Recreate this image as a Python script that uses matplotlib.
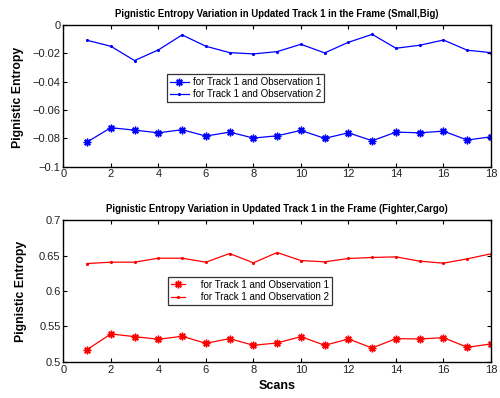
import matplotlib
matplotlib.use("Agg")
import matplotlib.pyplot as plt
import numpy as np

plt.rcParams['font.family'] = ['Liberation Sans', 'DejaVu Sans']

scans = list(range(1, 19))

small_big_obs1 = [-0.0826, -0.0725, -0.0742, -0.0761, -0.0739, -0.0784, -0.0756, -0.0798, -0.0782,
                  -0.0744, -0.0800, -0.0761, -0.0817, -0.0756, -0.0761, -0.0749, -0.0812, -0.0789]
small_big_obs2 = [-0.0108, -0.0150, -0.0251, -0.0176, -0.0070, -0.0150, -0.0195, -0.0204, -0.0188,
                  -0.0136, -0.0197, -0.0122, -0.0066, -0.0164, -0.0143, -0.0106, -0.0178, -0.0195]

fighter_cargo_obs1 = [0.5174, 0.5395, 0.5357, 0.5320, 0.5362, 0.5263, 0.5329, 0.5235, 0.5268,
                      0.5357, 0.5235, 0.5324, 0.5197, 0.5329, 0.5324, 0.5343, 0.5207, 0.5254]
fighter_cargo_obs2 = [0.6387, 0.6406, 0.6406, 0.6462, 0.6462, 0.6406, 0.6528, 0.6397, 0.6542,
                      0.6429, 0.6411, 0.6458, 0.6472, 0.6481, 0.6420, 0.6392, 0.6453, 0.6524]

top_title = "Pignistic Entropy Variation in Updated Track 1 in the Frame (Small,Big)"
bot_title = "Pignistic Entropy Variation in Updated Track 1 in the Frame (Fighter,Cargo)"
leg1 = "for Track 1 and Observation 1"
leg2 = "for Track 1 and Observation 2"

ASTER = (8, 2, 0)

fig = plt.figure(figsize=(5, 3.98), dpi=100)
ax1 = fig.add_axes([0.1266, 0.5812, 0.8554, 0.356])
ax2 = fig.add_axes([0.1266, 0.0905, 0.8554, 0.3567])

def style(ax):
    ax.tick_params(direction='in', labelsize=8, length=3, width=0.8, top=True, right=True,
                   pad=2, colors='black', labelcolor='#222222')
    for s in ax.spines.values():
        s.set_linewidth(1.0)
    ax.set_xlim(0, 18)
    ax.set_xticks(range(0, 19, 2))

# Top
ax1.plot(scans, small_big_obs1, color='blue', marker=ASTER, markersize=5.5, markeredgewidth=1.0,
         linewidth=0.9, label=leg1)
ax1.plot(scans, small_big_obs2, color='blue', marker='.', markersize=2.5, linewidth=0.9, label=leg2)
style(ax1)
ax1.set_ylim(-0.1, 0)
ax1.set_yticks([-0.1, -0.08, -0.06, -0.04, -0.02, 0])
ax1.set_yticklabels(['\u22120.1', '\u22120.08', '\u22120.06', '\u22120.04', '\u22120.02', '0'])
ax1.set_title(top_title, fontsize=6.9, fontweight='bold', pad=6)
ax1.set_ylabel("Pignistic Entropy", fontsize=8.8, fontweight='bold')
ax1.yaxis.set_label_coords(-0.092, 0.49)
l1 = ax1.legend(loc='upper left', bbox_to_anchor=(0.2418, 0.654), borderaxespad=0,
                fontsize=7, frameon=True, fancybox=False, edgecolor='black',
                handlelength=2.0, borderpad=0.3, labelspacing=0.25, handletextpad=0.4)
l1.get_frame().set_linewidth(0.9)

# Bottom
ax2.plot(scans, fighter_cargo_obs1, color='red', marker=ASTER, markersize=5.5, markeredgewidth=1.0,
         linewidth=0.9, label="     " + leg1)
ax2.plot(scans, fighter_cargo_obs2, color='red', marker='.', markersize=2.5, linewidth=0.9,
         label="     " + leg2)
style(ax2)
ax2.set_ylim(0.5, 0.7)
ax2.set_yticks([0.5, 0.55, 0.6, 0.65, 0.7])
ax2.set_yticklabels(['0.5', '0.55', '0.6', '0.65', '0.7'])
ax2.set_title(bot_title, fontsize=6.9, fontweight='bold', pad=6)
ax2.set_ylabel("Pignistic Entropy", fontsize=8.8, fontweight='bold')
ax2.yaxis.set_label_coords(-0.085, 0.5)
ax2.set_xlabel("Scans", fontsize=9, fontweight='bold', labelpad=4)
l2 = ax2.legend(loc='upper left', bbox_to_anchor=(0.244, 0.599), borderaxespad=0,
                fontsize=7, frameon=True, fancybox=False, edgecolor='black',
                handlelength=1.5, borderpad=0.3, labelspacing=0.25, handletextpad=0.2)
l2.get_frame().set_linewidth(0.9)

fig.savefig("out.png", dpi=100)
